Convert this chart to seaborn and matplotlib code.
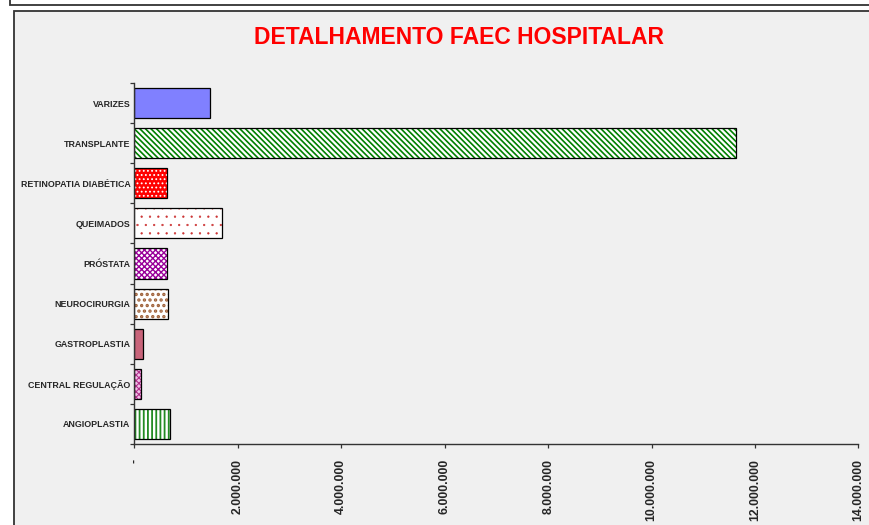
import matplotlib
matplotlib.use("Agg")
import matplotlib.pyplot as plt
import seaborn as sns
import pandas as pd
from matplotlib.patches import Rectangle
from matplotlib.ticker import FuncFormatter, MultipleLocator, FixedLocator

# dados (R$)
categorias = ["VARIZES", "TRANSPLANTE", "RETINOPATIA DIABÉTICA", "QUEIMADOS", "PRÓSTATA",
              "NEUROCIRURGIA", "GASTROPLASTIA", "CENTRAL REGULAÇÃO", "ANGIOPLASTIA"]
valores = [1465000, 11640000, 635000, 1685000, 635000, 653000, 159000, 126000, 690000]

# estilo de cada barra (preenchimento, hachura, cor da hachura, espessura da hachura)
cores = ["#8080ff", "white", "#ff0000", "white", "white", "white", "#c8647a", "#f0c0e8", "white"]
hachuras = ["", "\\" * 6, "....", "..", "xxxxxx", "...", "", "xxxxxx", "||||"]
cor_hachura = ["#8080ff", "#008000", "white", "#cc3333", "#990099", "#a0623a", "#c8647a", "#b0308a", "#228b22"]
esp_hachura = [1.0, 1.2, 0.8, 0.4, 1.0, 1.6, 1.0, 0.8, 1.3]

sns.set_style("white")
plt.rcParams["font.family"] = ["Liberation Sans", "DejaVu Sans"]
plt.rcParams["hatch.linewidth"] = 1.2

df = pd.DataFrame({"procedimento": categorias, "valor": valores})

W, H = 870, 525
fig = plt.figure(figsize=(W / 100, H / 100), dpi=100)

# moldura de cima e area do grafico (estilo Excel)
fig.patches.append(Rectangle((10 / W, 1 - 5 / H), 1.2, 0.2, transform=fig.transFigure,
                             facecolor="white", edgecolor="#333333", lw=1.3, zorder=-2))
fig.patches.append(Rectangle((14 / W, -0.2), 1.2, 1 - 11 / H + 0.2, transform=fig.transFigure,
                             facecolor="#f0f0f0", edgecolor="#333333", lw=1.3, zorder=-2))

ax = fig.add_axes([134.5 / W, 1 - 444 / H, 724 / W, 361 / H])
ax.set_facecolor("none")

sns.barplot(data=df, x="valor", y="procedimento", orient="h", width=0.75,
            color="white", saturation=1, ax=ax)
for p, fc, h, hc, hw in zip(ax.patches, cores, hachuras, cor_hachura, esp_hachura):
    p.set_facecolor(fc)
    p.set_hatch(h)
    p.set_edgecolor(hc)
    p.set_linewidth(0)
    if hasattr(p, "set_hatch_linewidth"):
        p.set_hatch_linewidth(hw)

# contorno preto das barras
n = len(ax.patches)
sns.barplot(data=df, x="valor", y="procedimento", orient="h", width=0.75,
            color="black", fill=False, ax=ax)
for p in ax.patches[n:]:
    p.set_facecolor("none")
    p.set_edgecolor("black")
    p.set_linewidth(0.9)

ax.set_xlim(0, 14e6)
ax.set_ylim(len(categorias) - 0.5, -0.5)
ax.set_xlabel("")
ax.set_ylabel("")

ax.xaxis.set_major_locator(MultipleLocator(2e6))
ax.xaxis.set_major_formatter(FuncFormatter(
    lambda v, _: "-" if v == 0 else f"{int(v):,}".replace(",", ".")))
ax.yaxis.set_minor_locator(FixedLocator([i - 0.5 for i in range(len(categorias) + 1)]))

ax.tick_params(axis="x", which="major", bottom=True, length=3, width=0.9,
               color="#333333", pad=7.8, labelsize=8.8)
ax.tick_params(axis="y", which="major", left=True, length=0, pad=3, labelsize=6.4)
ax.tick_params(axis="y", which="minor", left=True, length=3, width=0.9, color="#333333")
for lab in ax.get_xticklabels():
    lab.set_rotation(90)
    lab.set_va("top")
    lab.set_fontweight("bold")
for lab in ax.get_yticklabels():
    lab.set_fontweight("bold")

sns.despine(ax=ax)
for s in ["left", "bottom"]:
    ax.spines[s].set_color("#333333")
    ax.spines[s].set_linewidth(1.0)

fig.text(459 / W, 1 - 37 / H, "DETALHAMENTO FAEC HOSPITALAR", ha="center", va="center",
         color="#ff0000", fontsize=16.5, fontweight="bold")

fig.savefig("out.png", dpi=100)
